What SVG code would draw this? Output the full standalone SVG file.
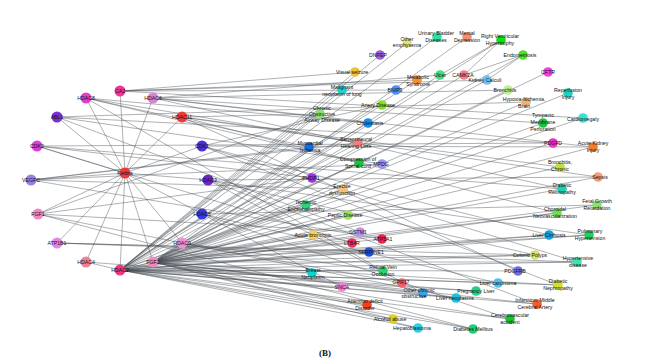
<svg xmlns="http://www.w3.org/2000/svg" width="650" height="364" viewBox="0 0 650 364">
<style>
.e line{stroke:#474d55;stroke-width:0.55;stroke-opacity:0.8}
text{font-family:"Liberation Sans",Arial,sans-serif;font-size:5.2px;fill:#111;text-anchor:middle}
.g circle{stroke:none}
.cap{font-family:"Liberation Serif","Times New Roman",serif;font-size:9px;font-weight:bold}
</style>
<rect width="650" height="364" fill="#fff"/>
<g id="connectors" class="e">
<line x1="125" y1="173" x2="120" y2="91"/><line x1="125" y1="173" x2="86" y2="98"/><line x1="125" y1="173" x2="153" y2="98"/><line x1="125" y1="173" x2="57" y2="117"/><line x1="125" y1="173" x2="182" y2="117"/><line x1="125" y1="173" x2="37" y2="146"/><line x1="125" y1="173" x2="202" y2="146"/><line x1="125" y1="173" x2="31" y2="180"/><line x1="125" y1="173" x2="208" y2="180"/><line x1="125" y1="173" x2="38" y2="214"/><line x1="125" y1="173" x2="202" y2="214"/><line x1="125" y1="173" x2="57" y2="243"/><line x1="125" y1="173" x2="182" y2="243"/><line x1="125" y1="173" x2="86" y2="262"/><line x1="125" y1="173" x2="120" y2="270"/><line x1="125" y1="173" x2="153" y2="262"/>
<line x1="120" y1="91" x2="417" y2="80"/><line x1="120" y1="91" x2="396" y2="90"/><line x1="120" y1="91" x2="487" y2="80"/><line x1="120" y1="91" x2="583" y2="118"/><line x1="120" y1="91" x2="355" y2="72"/>
<line x1="86" y1="98" x2="309" y2="147"/><line x1="86" y1="98" x2="358" y2="143"/><line x1="86" y1="98" x2="359" y2="163"/><line x1="86" y1="98" x2="383" y2="271"/><line x1="86" y1="98" x2="368" y2="123"/>
<line x1="153" y1="98" x2="368" y2="123"/><line x1="153" y1="98" x2="543" y2="123"/><line x1="153" y1="98" x2="593" y2="147"/><line x1="153" y1="98" x2="562" y2="189"/><line x1="153" y1="98" x2="440" y2="75"/><line x1="153" y1="98" x2="508" y2="90"/>
<line x1="57" y1="117" x2="382" y2="164"/><line x1="57" y1="117" x2="360" y2="232"/><line x1="57" y1="117" x2="553" y2="143"/><line x1="57" y1="117" x2="526" y2="102"/>
<line x1="182" y1="117" x2="320" y2="114"/><line x1="182" y1="117" x2="560" y2="167"/><line x1="182" y1="117" x2="598" y2="177"/><line x1="182" y1="117" x2="518" y2="271"/><line x1="182" y1="117" x2="557" y2="213"/>
<line x1="37" y1="146" x2="553" y2="143"/><line x1="37" y1="146" x2="312" y2="178"/><line x1="37" y1="146" x2="352" y2="243"/><line x1="37" y1="146" x2="562" y2="189"/>
<line x1="202" y1="146" x2="593" y2="147"/><line x1="202" y1="146" x2="558" y2="285"/><line x1="202" y1="146" x2="549" y2="235"/><line x1="202" y1="146" x2="577" y2="262"/><line x1="202" y1="146" x2="382" y2="105"/>
<line x1="31" y1="180" x2="382" y2="164"/><line x1="31" y1="180" x2="358" y2="143"/><line x1="31" y1="180" x2="343" y2="189"/><line x1="31" y1="180" x2="382" y2="239"/><line x1="31" y1="180" x2="309" y2="147"/>
<line x1="208" y1="180" x2="535" y2="255"/><line x1="208" y1="180" x2="537" y2="304"/><line x1="208" y1="180" x2="423" y2="293"/><line x1="208" y1="180" x2="589" y2="235"/><line x1="208" y1="180" x2="598" y2="177"/>
<line x1="38" y1="214" x2="312" y2="178"/><line x1="38" y1="214" x2="360" y2="232"/><line x1="38" y1="214" x2="473" y2="329"/><line x1="38" y1="214" x2="320" y2="114"/><line x1="38" y1="214" x2="182" y2="243"/>
<line x1="202" y1="214" x2="498" y2="283"/><line x1="202" y1="214" x2="510" y2="319"/><line x1="202" y1="214" x2="597" y2="205"/><line x1="202" y1="214" x2="342" y2="287"/>
<line x1="57" y1="243" x2="369" y2="252"/><line x1="57" y1="243" x2="577" y2="262"/><line x1="57" y1="243" x2="535" y2="255"/>
<line x1="182" y1="243" x2="383" y2="271"/><line x1="182" y1="243" x2="402" y2="283"/><line x1="182" y1="243" x2="456" y2="298"/>
<line x1="86" y1="262" x2="476" y2="291"/><line x1="86" y1="262" x2="120" y2="270"/>
<line x1="120" y1="270" x2="437" y2="37"/><line x1="120" y1="270" x2="380" y2="55"/><line x1="120" y1="270" x2="355" y2="72"/><line x1="120" y1="270" x2="342" y2="90"/><line x1="120" y1="270" x2="407" y2="43"/><line x1="120" y1="270" x2="417" y2="80"/><line x1="120" y1="270" x2="382" y2="105"/><line x1="120" y1="270" x2="320" y2="114"/><line x1="120" y1="270" x2="368" y2="123"/><line x1="120" y1="270" x2="309" y2="147"/><line x1="120" y1="270" x2="358" y2="143"/><line x1="120" y1="270" x2="359" y2="163"/><line x1="120" y1="270" x2="343" y2="189"/><line x1="120" y1="270" x2="306" y2="205"/><line x1="120" y1="270" x2="348" y2="215"/><line x1="120" y1="270" x2="313" y2="235"/><line x1="120" y1="270" x2="312" y2="273"/><line x1="120" y1="270" x2="383" y2="271"/><line x1="120" y1="270" x2="342" y2="287"/><line x1="120" y1="270" x2="367" y2="305"/><line x1="120" y1="270" x2="393" y2="319"/><line x1="120" y1="270" x2="418" y2="328"/><line x1="120" y1="270" x2="473" y2="329"/><line x1="120" y1="270" x2="510" y2="319"/><line x1="120" y1="270" x2="537" y2="304"/><line x1="120" y1="270" x2="456" y2="298"/><line x1="120" y1="270" x2="476" y2="291"/><line x1="120" y1="270" x2="498" y2="283"/><line x1="120" y1="270" x2="518" y2="271"/><line x1="120" y1="270" x2="558" y2="285"/><line x1="120" y1="270" x2="535" y2="255"/><line x1="120" y1="270" x2="577" y2="262"/><line x1="120" y1="270" x2="549" y2="235"/><line x1="120" y1="270" x2="589" y2="235"/><line x1="120" y1="270" x2="557" y2="213"/><line x1="120" y1="270" x2="360" y2="232"/><line x1="120" y1="270" x2="369" y2="252"/><line x1="120" y1="270" x2="153" y2="262"/>
<line x1="153" y1="262" x2="523" y2="55"/><line x1="153" y1="262" x2="548" y2="72"/><line x1="153" y1="262" x2="508" y2="90"/><line x1="153" y1="262" x2="568" y2="93"/><line x1="153" y1="262" x2="526" y2="102"/><line x1="153" y1="262" x2="543" y2="123"/><line x1="153" y1="262" x2="583" y2="118"/><line x1="153" y1="262" x2="553" y2="143"/><line x1="153" y1="262" x2="593" y2="147"/><line x1="153" y1="262" x2="560" y2="167"/><line x1="153" y1="262" x2="562" y2="189"/><line x1="153" y1="262" x2="598" y2="177"/><line x1="153" y1="262" x2="597" y2="205"/><line x1="153" y1="262" x2="557" y2="213"/><line x1="153" y1="262" x2="549" y2="235"/><line x1="153" y1="262" x2="589" y2="235"/><line x1="153" y1="262" x2="535" y2="255"/><line x1="153" y1="262" x2="577" y2="262"/><line x1="153" y1="262" x2="558" y2="285"/><line x1="153" y1="262" x2="537" y2="304"/><line x1="153" y1="262" x2="510" y2="319"/><line x1="153" y1="262" x2="473" y2="329"/><line x1="153" y1="262" x2="418" y2="328"/><line x1="153" y1="262" x2="393" y2="319"/><line x1="153" y1="262" x2="367" y2="305"/><line x1="153" y1="262" x2="423" y2="293"/><line x1="153" y1="262" x2="456" y2="298"/><line x1="153" y1="262" x2="312" y2="273"/><line x1="153" y1="262" x2="313" y2="235"/><line x1="153" y1="262" x2="306" y2="205"/><line x1="153" y1="262" x2="348" y2="215"/><line x1="153" y1="262" x2="343" y2="189"/><line x1="153" y1="262" x2="487" y2="80"/><line x1="153" y1="262" x2="464" y2="75"/><line x1="153" y1="262" x2="440" y2="75"/><line x1="153" y1="262" x2="501" y2="40"/><line x1="153" y1="262" x2="467" y2="37"/><line x1="153" y1="262" x2="352" y2="243"/><line x1="153" y1="262" x2="382" y2="239"/>
<line x1="464" y1="75" x2="501" y2="40"/><line x1="464" y1="75" x2="523" y2="55"/><line x1="487" y1="80" x2="523" y2="55"/><line x1="440" y1="75" x2="501" y2="40"/>
</g>
<g class="g">
<g id="n-ket"><circle cx="125" cy="173" r="5.5" fill="#f03838"/><text x="125" y="175">Ketbra</text></g>
<g id="n-ca2"><circle cx="120" cy="91" r="5.5" fill="#f0359a"/><text x="120" y="93">CA2</text></g>
<g id="n-hdac8"><circle cx="86" cy="98" r="5.5" fill="#e040c8"/><text x="86" y="100">HDAC8</text></g>
<g id="n-hdac6"><circle cx="153" cy="98" r="5.5" fill="#d882d8"/><text x="153" y="100">HDAC6</text></g>
<g id="n-abl1"><circle cx="57" cy="117" r="5.5" fill="#7a30d0"/><text x="57" y="119">ABL1</text></g>
<g id="n-hdac11"><circle cx="182" cy="117" r="5.5" fill="#f03a3a"/><text x="182" y="119">HDAC11</text></g>
<g id="n-cdk2"><circle cx="37" cy="146" r="5.5" fill="#d840d8"/><text x="37" y="148">CDK2</text></g>
<g id="n-cdk"><circle cx="202" cy="146" r="5.5" fill="#4a30d8"/><text x="202" y="148">CDK1</text></g>
<g id="n-vegfc"><circle cx="31" cy="180" r="5.5" fill="#9a80e0"/><text x="31" y="182">VEGFC</text></g>
<g id="n-hdac3"><circle cx="208" cy="180" r="5.5" fill="#6a28c8"/><text x="208" y="182">HDAC3</text></g>
<g id="n-fgf1"><circle cx="38" cy="214" r="5.5" fill="#f088c8"/><text x="38" y="216">FGF1</text></g>
<g id="n-hdac5"><circle cx="202" cy="214" r="5.5" fill="#3838e0"/><text x="202" y="216">HDAC5</text></g>
<g id="n-atp1b1"><circle cx="57" cy="243" r="5.5" fill="#e088e8"/><text x="57" y="245">ATP1B1</text></g>
<g id="n-hdac9"><circle cx="182" cy="243" r="5.5" fill="#f090d8"/><text x="182" y="245">HDAC9</text></g>
<g id="n-hdac4"><circle cx="86" cy="262" r="5.5" fill="#f08098"/><text x="86" y="264">HDAC4</text></g>
<g id="n-hdac2"><circle cx="120" cy="270" r="5.5" fill="#f03880"/><text x="120" y="272">HDAC2</text></g>
<g id="n-fgf2"><circle cx="153" cy="262" r="5.5" fill="#f088b8"/><text x="153" y="264">FGF2</text></g>

<g id="n-dnpep"><circle cx="380" cy="55" r="4.8" fill="#9a60e0"/><text x="378" y="57">DNPEP</text></g>
<g id="n-othemph"><circle cx="407" cy="43" r="4.8" fill="#e0e080"/><text x="407" y="41">Other</text><text x="407" y="47">emphysema</text></g>
<g id="n-visual"><circle cx="355" cy="72" r="4.8" fill="#f0c040"/><text x="352" y="74">Visual seizure</text></g>
<g id="n-malig"><circle cx="342" cy="90" r="4.8" fill="#20d0d0"/><text x="342" y="89">Malignant</text><text x="342" y="96">neoplasm of lung</text></g>
<g id="n-metab"><circle cx="417" cy="80" r="4.8" fill="#f09030"/><text x="418" y="79">Metabolic</text><text x="418" y="86">Syndrome</text></g>
<g id="n-bnip3"><circle cx="396" cy="90" r="4.8" fill="#5090f0"/><text x="395" y="92">BNIP3</text></g>
<g id="n-artery"><circle cx="382" cy="105" r="4.8" fill="#80e030"/><text x="378" y="107">Artery Disease</text></g>
<g id="n-copd"><circle cx="320" cy="114" r="4.8" fill="#90e070"/><text x="322" y="110">Chronic</text><text x="322" y="116">Obstructive</text><text x="322" y="122">Airway Disease</text></g>
<g id="n-chole"><circle cx="368" cy="123" r="4.8" fill="#1090f0"/><text x="370" y="125">Cholestasis</text></g>
<g id="n-myo"><circle cx="309" cy="147" r="4.8" fill="#1070e0"/><text x="310" y="145">Myocardial</text><text x="310" y="152">Ischemia</text></g>
<g id="n-snhl"><circle cx="358" cy="143" r="4.8" fill="#f08080"/><text x="356" y="141">Sensorineural</text><text x="356" y="148">Hearing Loss</text></g>
<g id="n-compr"><circle cx="359" cy="163" r="4.8" fill="#20c040"/><text x="358" y="161">Compression of</text><text x="358" y="168">Spinal cord</text></g>
<g id="n-mpdg"><circle cx="382" cy="164" r="4.8" fill="#a090f0"/><text x="381" y="166">MPDG</text></g>
<g id="n-phdp1"><circle cx="312" cy="178" r="4.8" fill="#a030e0"/><text x="311" y="180">PHDP1</text></g>
<g id="n-erect"><circle cx="343" cy="189" r="4.8" fill="#f0c080"/><text x="342" y="188">Erectile</text><text x="342" y="195">dysfunction</text></g>
<g id="n-enceph"><circle cx="306" cy="205" r="4.8" fill="#30d080"/><text x="306" y="204">Ischemic</text><text x="306" y="211">Encephalopathy</text></g>
<g id="n-peptic"><circle cx="348" cy="215" r="4.8" fill="#a0e060"/><text x="345" y="217">Peptic Disease</text></g>
<g id="n-acbron"><circle cx="313" cy="235" r="4.8" fill="#f0d060"/><text x="313" y="237">Acute bronchitis</text></g>
<g id="n-gstm1"><circle cx="360" cy="232" r="4.8" fill="#c090f0"/><text x="358" y="234">GSTM1</text></g>
<g id="n-ltb4r"><circle cx="352" cy="243" r="4.8" fill="#f03060"/><text x="352" y="245">LTB4R</text></g>
<g id="n-atp5"><circle cx="382" cy="239" r="4.8" fill="#f02050"/><text x="383" y="241">ATP5A1</text></g>
<g id="n-serp"><circle cx="369" cy="252" r="4.8" fill="#2050e0"/><text x="371" y="254">SERPINE1</text></g>
<g id="n-breast"><circle cx="312" cy="273" r="4.8" fill="#10d0d0"/><text x="313" y="272">Breast</text><text x="313" y="279">Neoplasm</text></g>
<g id="n-rvo"><circle cx="383" cy="271" r="4.8" fill="#30d070"/><text x="383" y="269">Retinal Vein</text><text x="383" y="276">Occlusion</text></g>
<g id="n-snca"><circle cx="342" cy="287" r="4.8" fill="#f080e0"/><text x="342" y="289">SNCA</text></g>
<g id="n-gpr17"><circle cx="402" cy="283" r="4.8" fill="#f06070"/><text x="401" y="284">GPR17</text></g>
<g id="n-occ"><circle cx="423" cy="293" r="4.8" fill="#40a0e0"/><text x="419" y="291.5">Other chronic</text><text x="414" y="298">obstructive</text></g>
<g id="n-adhd"><circle cx="367" cy="305" r="4.8" fill="#f04020"/><text x="365" y="303">Attention deficit</text><text x="365" y="310">Disorder</text></g>
<g id="n-alcab"><circle cx="393" cy="319" r="4.8" fill="#e0d020"/><text x="390" y="321">Alcohol abuse</text></g>
<g id="n-hepb"><circle cx="418" cy="328" r="4.8" fill="#30d0e0"/><text x="412" y="330">Hepatoblastoma</text></g>
<g id="n-dm"><circle cx="473" cy="329" r="4.8" fill="#20d070"/><text x="473" y="331">Diabetes Mellitus</text></g>
<g id="n-cva"><circle cx="510" cy="319" r="4.8" fill="#20c030"/><text x="510" y="317">Cerebrovascular</text><text x="510" y="324">accident</text></g>
<g id="n-infm"><circle cx="537" cy="304" r="4.8" fill="#f06030"/><text x="535" y="302">Infarction, Middle</text><text x="535" y="309">Cerebral Artery</text></g>
<g id="n-pregl"><circle cx="476" cy="291" r="4.8" fill="#20d080"/><text x="476" y="293">Pregnancy Liver</text></g>
<g id="n-livn"><circle cx="456" cy="298" r="4.8" fill="#20c0e0"/><text x="455" y="300">Liver neoplasms</text></g>
<g id="n-livc"><circle cx="498" cy="283" r="4.8" fill="#50c0f0"/><text x="498" y="285">Liver carcinoma</text></g>
<g id="n-pdgfrb"><circle cx="518" cy="271" r="4.8" fill="#7070e0"/><text x="515" y="273">PDGFRB</text></g>
<g id="n-dnep"><circle cx="558" cy="285" r="4.8" fill="#d0e030"/><text x="558" y="283">Diabetic</text><text x="558" y="290">Nephropathy</text></g>
<g id="n-colp"><circle cx="535" cy="255" r="4.8" fill="#d8e070"/><text x="530" y="257">Colonic Polyps</text></g>
<g id="n-hyper"><circle cx="577" cy="262" r="4.8" fill="#40e0b0"/><text x="578" y="260">Hypertensive</text><text x="578" y="267">disease</text></g>
<g id="n-livcir"><circle cx="549" cy="235" r="4.8" fill="#10a0e0"/><text x="549" y="237">Liver Cirrhosis</text></g>
<g id="n-pulh"><circle cx="589" cy="235" r="4.8" fill="#20d060"/><text x="590" y="233">Pulmonary</text><text x="590" y="240">Hypertension</text></g>
<g id="n-chnv"><circle cx="557" cy="213" r="4.8" fill="#70e050"/><text x="555" y="211">Choroidal</text><text x="555" y="218">Neovascularization</text></g>
<g id="n-fgr"><circle cx="597" cy="205" r="4.8" fill="#90e070"/><text x="597" y="203">Fetal Growth</text><text x="597" y="210">Retardation</text></g>
<g id="n-dret"><circle cx="562" cy="189" r="4.8" fill="#20d0b0"/><text x="562" y="187">Diabetic</text><text x="562" y="194">Retinopathy</text></g>
<g id="n-sepsis"><circle cx="598" cy="177" r="4.8" fill="#f0a080"/><text x="600" y="179">Sepsis</text></g>
<g id="n-bronc"><circle cx="560" cy="167" r="4.8" fill="#c0e040"/><text x="560" y="164">Bronchitis,</text><text x="560" y="171">Chronic</text></g>
<g id="n-pdgfd"><circle cx="553" cy="143" r="4.8" fill="#f030c0"/><text x="553" y="145">PDGFD</text></g>
<g id="n-aki"><circle cx="593" cy="147" r="4.8" fill="#f08030"/><text x="593" y="145">Acute Kidney</text><text x="593" y="152">Injury</text></g>
<g id="n-tymp"><circle cx="543" cy="123" r="4.8" fill="#20c040"/><text x="543" y="117">Tympanic</text><text x="543" y="124">Membrane</text><text x="543" y="131">Perforation</text></g>
<g id="n-cardio"><circle cx="583" cy="118" r="4.8" fill="#40e0d0"/><text x="583" y="121">Cardiomegaly</text></g>
<g id="n-hypox"><circle cx="526" cy="102" r="4.8" fill="#f0b070"/><text x="524" y="101">Hypoxia-Ischemia,</text><text x="524" y="108">Brain</text></g>
<g id="n-reperf"><circle cx="568" cy="93" r="4.8" fill="#20d0c0"/><text x="568" y="92">Reperfusion</text><text x="568" y="99">Injury</text></g>
<g id="n-bronch"><circle cx="508" cy="90" r="4.8" fill="#c0f090"/><text x="505" y="92">Bronchitis</text></g>
<g id="n-cftr"><circle cx="548" cy="72" r="4.8" fill="#f040e0"/><text x="548" y="74">CFTR</text></g>
<g id="n-endo"><circle cx="523" cy="55" r="4.8" fill="#50e030"/><text x="520" y="57">Endometriosis</text></g>
<g id="n-kidney"><circle cx="487" cy="80" r="4.8" fill="#70c0f0"/><text x="485" y="82">Kidney Calculi</text></g>
<g id="n-camk"><circle cx="464" cy="75" r="4.8" fill="#f08090"/><text x="463" y="77">CAMK2A</text></g>
<g id="n-ulcer"><circle cx="440" cy="75" r="4.8" fill="#40e080"/><text x="440" y="77">Ulcer</text></g>
<g id="n-rvh"><circle cx="501" cy="40" r="4.8" fill="#10e010"/><text x="500" y="38">Right Ventricular</text><text x="500" y="45">Hypertrophy</text></g>
<g id="n-mental"><circle cx="467" cy="37" r="4.8" fill="#f09070"/><text x="467" y="35">Mental</text><text x="467" y="42">Depression</text></g>
<g id="n-urin"><circle cx="437" cy="37" r="4.8" fill="#30e0a0"/><text x="436" y="35">Urinary Bladder</text><text x="436" y="42">Diseases</text></g>
</g>
<text class="cap" x="325" y="356">(B)</text>
</svg>
